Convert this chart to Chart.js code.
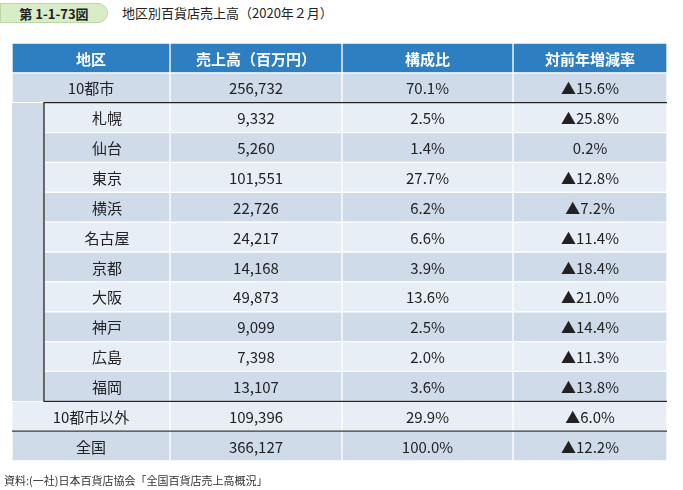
<!DOCTYPE html>
<html><head><meta charset="utf-8">
<script src="https://cdn.jsdelivr.net/npm/chart.js@4.4.0/dist/chart.umd.min.js"></script>
<style>
body{margin:0;background:#fff;font-family:"Noto Sans CJK JP",sans-serif;}
#wrap{position:relative;width:683px;height:490px;}
#fig{position:absolute;left:0;top:3px;width:108px;height:20px;background:#d9ecc8;border:1px solid #b9d9a0;border-radius:0 12px 12px 0;font-size:13px;font-weight:bold;color:#222;line-height:20px;text-align:center;box-sizing:border-box;}
#ttl{position:absolute;left:122px;top:3px;font-size:13px;line-height:20px;color:#222;}
#src{position:absolute;left:4px;top:472px;font-size:11px;color:#333;}
canvas{position:absolute;left:0;top:0;}
</style></head><body>
<div id="wrap">
<div id="fig">第 1-1-73図</div>
<div id="ttl">地区別百貨店売上高（2020年２月）</div>
<canvas id="c" width="683" height="490"></canvas>
<div id="src">資料:(一社)日本百貨店協会「全国百貨店売上高概況」</div>
</div>
<script>
const headers = ["地区","売上高（百万円）","構成比","対前年増減率"];
const regions = ["10都市","札幌","仙台","東京","横浜","名古屋","京都","大阪","神戸","広島","福岡","10都市以外","全国"];
const sales = ["256,732","9,332","5,260","101,551","22,726","24,217","14,168","49,873","9,099","7,398","13,107","109,396","366,127"];
const shares = ["70.1%","2.5%","1.4%","27.7%","6.2%","6.6%","3.9%","13.6%","2.5%","2.0%","3.6%","29.9%","100.0%"];
const changes = ["▲15.6%","▲25.8%","0.2%","▲12.8%","▲7.2%","▲11.4%","▲18.4%","▲21.0%","▲14.4%","▲11.3%","▲13.8%","▲6.0%","▲12.2%"];
const subRows = [1,2,3,4,5,6,7,8,9,10];

const COLS=[[0,158],[158,330],[330,501],[501,655]];
const INDENT=32;
const HDR='#2e7fc1', DARK='#cfdbe9', LIGHT='#e8eef5';
const rows = ["H"].concat(regions);
const rowColor = i => i===0?HDR:(i%2===1?DARK:LIGHT);
const isSub = i => subRows.includes(i-1);

const datasets = COLS.map((c,ci)=>({
  data: rows.map((r,i)=> (ci===0 && isSub(i)) ? [INDENT,c[1]] : [c[0],c[1]]),
  backgroundColor: rows.map((r,i)=>rowColor(i)),
  borderColor:'#ffffff', borderWidth:1, borderSkipped:false,
  categoryPercentage:1, barPercentage:1
}));
datasets.push({
  data: rows.map((r,i)=> isSub(i)?[0,INDENT+1]:null),
  backgroundColor: DARK, borderWidth:0,
  categoryPercentage:1, barPercentage:1
});

const cellText = rows.map((r,i)=> i===0?headers:[regions[i-1],sales[i-1],shares[i-1],changes[i-1]]);

const textPlugin={id:'txt',afterDatasetsDraw(ch){
  const {ctx,scales:{x,y}}=ch;
  const step=y.getPixelForValue(1)-y.getPixelForValue(0);
  // box around sub rows
  ctx.save();
  ctx.strokeStyle='#222';ctx.lineWidth=1.3;
  const t=y.getPixelForValue(subRows[0]+1)-step/2, b=y.getPixelForValue(subRows[subRows.length-1]+1)+step/2;
  const l=x.getPixelForValue(INDENT), rr=x.getPixelForValue(COLS[3][1]);
  ctx.beginPath();ctx.moveTo(rr,t);ctx.lineTo(l,t);ctx.lineTo(l,b);ctx.lineTo(rr,b);ctx.stroke();
  const lb=y.getPixelForValue(rows.length-1)-step/2;
  ctx.strokeStyle='#333';ctx.lineWidth=1.3;
  ctx.beginPath();ctx.moveTo(x.getPixelForValue(0),lb);ctx.lineTo(rr,lb);ctx.stroke();
  ctx.textAlign='center';ctx.textBaseline='middle';
  cellText.forEach((cells,i)=>{
    const py=y.getPixelForValue(i);
    cells.forEach((s,ci)=>{
      let x0=COLS[ci][0]; if(ci===0&&isSub(i)) x0=INDENT;
      const px=x.getPixelForValue((x0+COLS[ci][1])/2);
      ctx.fillStyle=i===0?'#fff':'#222';
      ctx.font=(i===0?'bold ':'')+'15px "Noto Sans CJK JP", sans-serif';
      ctx.fillText(s,px,py+1);
    });
  });
  ctx.restore();
}};

new Chart(document.getElementById('c'),{
  type:'bar',
  data:{labels:rows,datasets},
  options:{
    indexAxis:'y',responsive:false,animation:false,
    layout:{padding:{left:12,right:16,top:43,bottom:29}},
    plugins:{legend:{display:false},tooltip:{enabled:false}},
    scales:{
      x:{type:'linear',min:0,max:655,display:false},
      y:{display:false,stacked:true,offset:true}
    }
  },
  plugins:[textPlugin]
});
</script></body></html>
